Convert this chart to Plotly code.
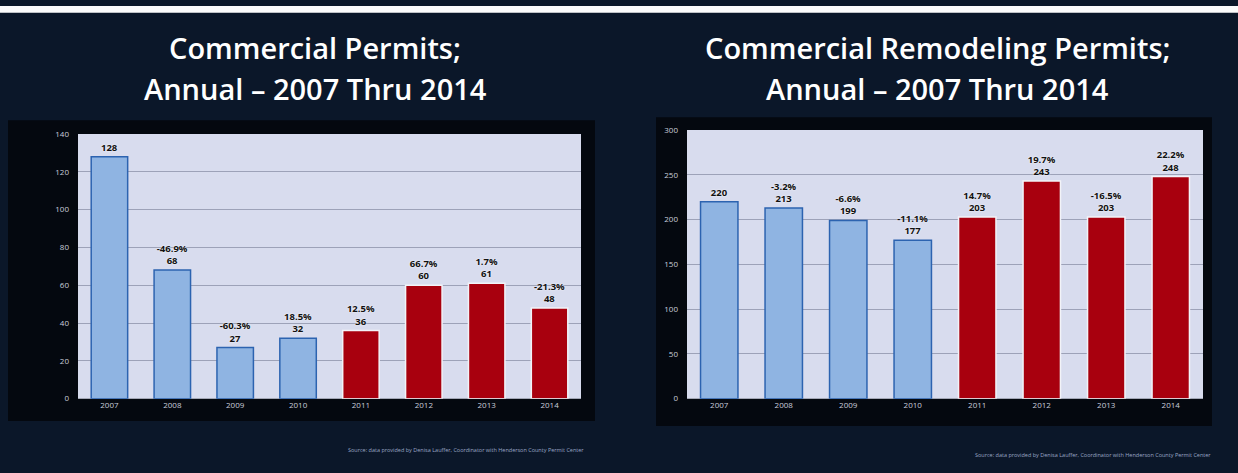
import plotly.graph_objects as go

W, H = 1238, 473

years = ["2007", "2008", "2009", "2010", "2011", "2012", "2013", "2014"]
commercial = [128, 68, 27, 32, 36, 60, 61, 48]
commercial_pct = ["", "-46.9%", "-60.3%", "18.5%", "12.5%", "66.7%", "1.7%", "-21.3%"]
remodel = [220, 213, 199, 177, 203, 243, 203, 248]
remodel_pct = ["", "-3.2%", "-6.6%", "-11.1%", "14.7%", "19.7%", "-16.5%", "22.2%"]

title_left = ["Commercial Permits;", "Annual \u2013 2007 Thru 2014"]
title_right = ["Commercial Remodeling Permits;", "Annual \u2013 2007 Thru 2014"]
source_note = "Source: data provided by Denisa Lauffer, Coordinator with Henderson County Permit Center"

BLUE = "#8fb4e2"
RED = "#a8000e"
bar_colors = [BLUE] * 4 + [RED] * 4
edge_colors = ["#2c63b0"] * 4 + ["#f2f3f8"] * 4

BG = "#0b1729"
PANEL = "#04080f"
PLOTBG = "#d8dcee"
GRID = "#9da2b8"
TICK = "#c9cddb"


def px_x(x):
    return x / W


def px_y(y):
    return 1 - y / H


def labels(vals, pcts):
    return [f"<b>{p}<br>{v}</b>" if p else f"<b>{v}</b>" for v, p in zip(vals, pcts)]


fig = go.Figure()

for vals, pcts, xa, ya in [(commercial, commercial_pct, "x", "y"), (remodel, remodel_pct, "x2", "y2")]:
    fig.add_trace(go.Bar(
        x=years, y=vals, xaxis=xa, yaxis=ya,
        marker=dict(color=bar_colors, line=dict(color=edge_colors, width=1.5)),
        text=labels(vals, pcts), textposition="outside", cliponaxis=False,
        textfont=dict(family="Open Sans", size=9.5, color="#111111", shadow="0px 0px 2px white"),
        showlegend=False, hoverinfo="skip",
    ))

axis_common = dict(showline=False, zeroline=False, ticks="", fixedrange=True)

fig.update_layout(
    width=W, height=H,
    margin=dict(l=0, r=0, t=0, b=0),
    paper_bgcolor=BG,
    plot_bgcolor="rgba(0,0,0,0)",
    bargap=0.42,
    font=dict(family="Open Sans", color=TICK),
    xaxis=dict(domain=[px_x(78), px_x(581)], anchor="y", showgrid=False,
               tickfont=dict(size=8, color=TICK), **axis_common),
    yaxis=dict(domain=[px_y(402), px_y(131)], anchor="x", range=[0, 140], dtick=20,
               showgrid=True, gridcolor=GRID, gridwidth=1,
               tickfont=dict(size=8, color=TICK), ticklabelstandoff=8, **axis_common),
    xaxis2=dict(domain=[px_x(687), px_x(1203)], anchor="y2", showgrid=False,
                tickfont=dict(size=8, color=TICK), **axis_common),
    yaxis2=dict(domain=[px_y(402), px_y(127)], anchor="x2", range=[0, 300], dtick=50,
                showgrid=True, gridcolor=GRID, gridwidth=1,
                tickfont=dict(size=8, color=TICK), ticklabelstandoff=8, **axis_common),
)

shapes = [
    # white strip at top
    dict(type="rect", xref="paper", yref="paper", x0=0, x1=1, y0=px_y(7), y1=1,
         fillcolor="#fbfbfb", line=dict(width=0), layer="below"),
    # dark panels
    dict(type="rect", xref="paper", yref="paper", x0=px_x(8), x1=px_x(595), y0=px_y(425), y1=px_y(117),
         fillcolor=PANEL, line=dict(width=0), layer="below"),
    dict(type="rect", xref="paper", yref="paper", x0=px_x(656), x1=px_x(1212), y0=px_y(430), y1=px_y(114),
         fillcolor=PANEL, line=dict(width=0), layer="below"),
    # plot areas
    dict(type="rect", xref="x domain", yref="y domain", x0=0, x1=1, y0=0, y1=1,
         fillcolor=PLOTBG, line=dict(width=0), layer="below"),
    dict(type="rect", xref="x2 domain", yref="y2 domain", x0=0, x1=1, y0=0, y1=1,
         fillcolor=PLOTBG, line=dict(width=0), layer="below"),
]
fig.update_layout(shapes=shapes)

annotations = []
for lines, cx in [(title_left, 315), (title_right, 937)]:
    for line, cy in zip(lines, [42, 84]):
        annotations.append(dict(
            text=line, x=px_x(cx), y=px_y(cy), xref="paper", yref="paper",
            xanchor="center", yanchor="middle", showarrow=False,
            font=dict(family="Open Sans", size=29, color="#ffffff", weight=600),
        ))
for rx, ry in [(586, 455), (1213, 460)]:
    annotations.append(dict(
        text=source_note, x=px_x(rx), y=px_y(ry), xref="paper", yref="paper",
        xanchor="right", yanchor="middle", showarrow=False,
        font=dict(family="Open Sans", size=5.5, color="#9aa6c4"),
    ))
fig.update_layout(annotations=annotations)

fig.write_html(
    "out.html",
    config={"displayModeBar": False},
    post_script="document.body.style.margin='0';document.body.style.overflow='hidden';",
)
